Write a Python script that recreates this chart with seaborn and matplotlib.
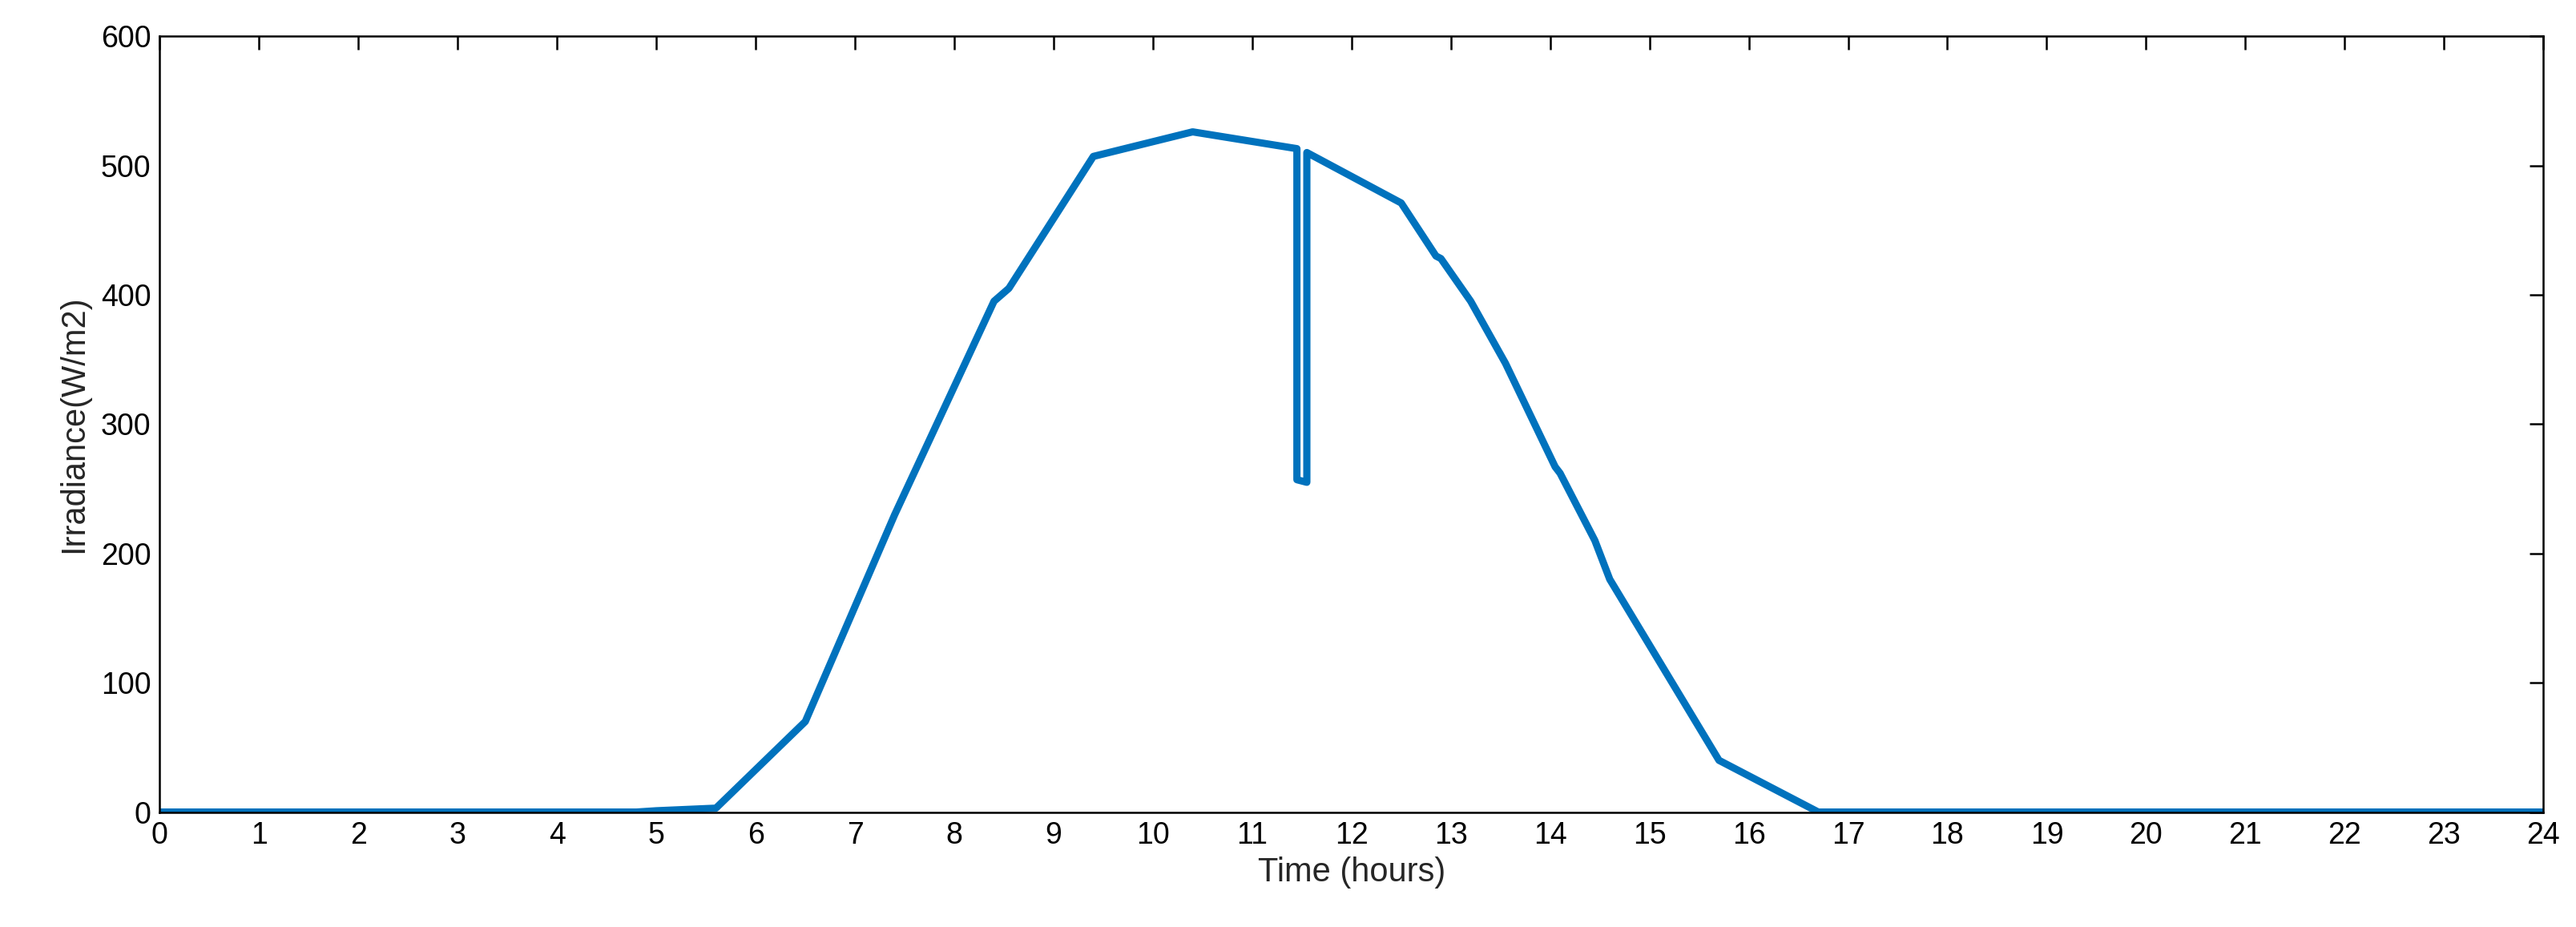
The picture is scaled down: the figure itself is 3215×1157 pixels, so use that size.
import matplotlib
matplotlib.use("Agg")
import matplotlib.pyplot as plt
import seaborn as sns
import pandas as pd

hours = [0, 4.8, 5.0, 5.6, 6.5, 7.4, 8.4, 8.55, 9.4, 10.4, 11.45, 11.45, 11.55, 11.55,
         12.5, 12.85, 12.9, 13.2, 13.55, 14.05, 14.1, 14.45, 14.6, 15.7, 16.7, 24]
irradiance = [0, 0, 1, 3, 70, 230, 395, 405, 507, 526, 513, 257, 255, 510,
              471, 430, 428, 395, 347, 267, 262, 210, 180, 40, 0, 0]
xticks = list(range(0, 25))
yticks = [0, 100, 200, 300, 400, 500, 600]

sns.set_style("white")
plt.rcParams['font.family'] = ['Liberation Sans', 'DejaVu Sans']
df = pd.DataFrame({"t": hours, "g": irradiance})

fig = plt.figure(figsize=(32.16, 11.57), dpi=100)
ax = fig.add_axes([0.062, 0.124, 0.925, 0.837])
sns.lineplot(data=df, x="t", y="g", sort=False, estimator=None, ax=ax,
             color="#0072BD", linewidth=6.5)
ax.set_xlim(0, 24)
ax.set_ylim(0, 600)
ax.set_xticks(xticks)
ax.set_yticks(yticks)
ax.tick_params(direction="in", length=12, width=1.8, labelsize=27, top=True, right=True, pad=8,
               colors="black")
for s in ax.spines.values():
    s.set_color("black"); s.set_linewidth(1.8)
ax.set_xlabel("Time (hours)", fontsize=30, labelpad=6)
ax.set_ylabel("Irradiance(W/m2)", fontsize=30, labelpad=10)
fig.savefig("out.png", dpi=100)
